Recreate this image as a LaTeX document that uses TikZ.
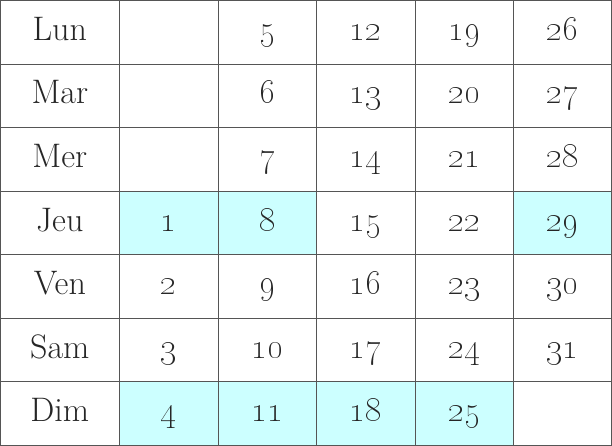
\documentclass[tikz,border=0pt]{standalone}
\definecolor{hl}{HTML}{CCFFFF}
\definecolor{gridc}{HTML}{555555}
\definecolor{txt}{HTML}{262626}
\begin{document}
\begin{tikzpicture}[x=1pt,y=-1pt,
  cell/.style={draw=gridc,line width=0.6pt,minimum width=98.6pt,minimum height=63.57pt,inner sep=0pt,anchor=north west,font=\fontsize{34}{38}\selectfont,text=txt,text height=22pt,text depth=5.6pt},
  daycell/.style={cell,minimum width=119pt},
  hlcell/.style={cell,fill=hl}]
\useasboundingbox (0,0) rectangle (612,445);
\foreach \d [count=\r from 0] in {Lun,Mar,Mer,Jeu,Ven,Sam,Dim}
  \node[daycell] (d\r) at (0,{\r*63.57}) {\d};
\foreach \r/\a/\b/\c/\e/\f/\ha/\hb/\hf in {
  0/{}/5/12/19/26/cell/cell/cell,
  1/{}/6/13/20/27/cell/cell/cell,
  2/{}/7/14/21/28/cell/cell/cell,
  3/1/8/15/22/29/hlcell/hlcell/hlcell,
  4/2/9/16/23/30/cell/cell/cell,
  5/3/10/17/24/31/cell/cell/cell}{
  \node[\ha] (c\r-1) at (119,{\r*63.57}) {\oldstylenums{\a}};
  \node[\hb] (c\r-2) at (217.6,{\r*63.57}) {\oldstylenums{\b}};
  \node[cell] (c\r-3) at (316.2,{\r*63.57}) {\oldstylenums{\c}};
  \node[cell] (c\r-4) at (414.8,{\r*63.57}) {\oldstylenums{\e}};
  \node[\hf,minimum width=97.2pt] (c\r-5) at (513.4,{\r*63.57}) {\oldstylenums{\f}};
}
\node[hlcell] (c6-1) at (119,381.43) {\oldstylenums{4}};
\node[hlcell] (c6-2) at (217.6,381.43) {\oldstylenums{11}};
\node[hlcell] (c6-3) at (316.2,381.43) {\oldstylenums{18}};
\node[hlcell] (c6-4) at (414.8,381.43) {\oldstylenums{25}};
\node[cell,minimum width=97.2pt] (c6-5) at (513.4,381.43) {};
\end{tikzpicture}
\end{document}
